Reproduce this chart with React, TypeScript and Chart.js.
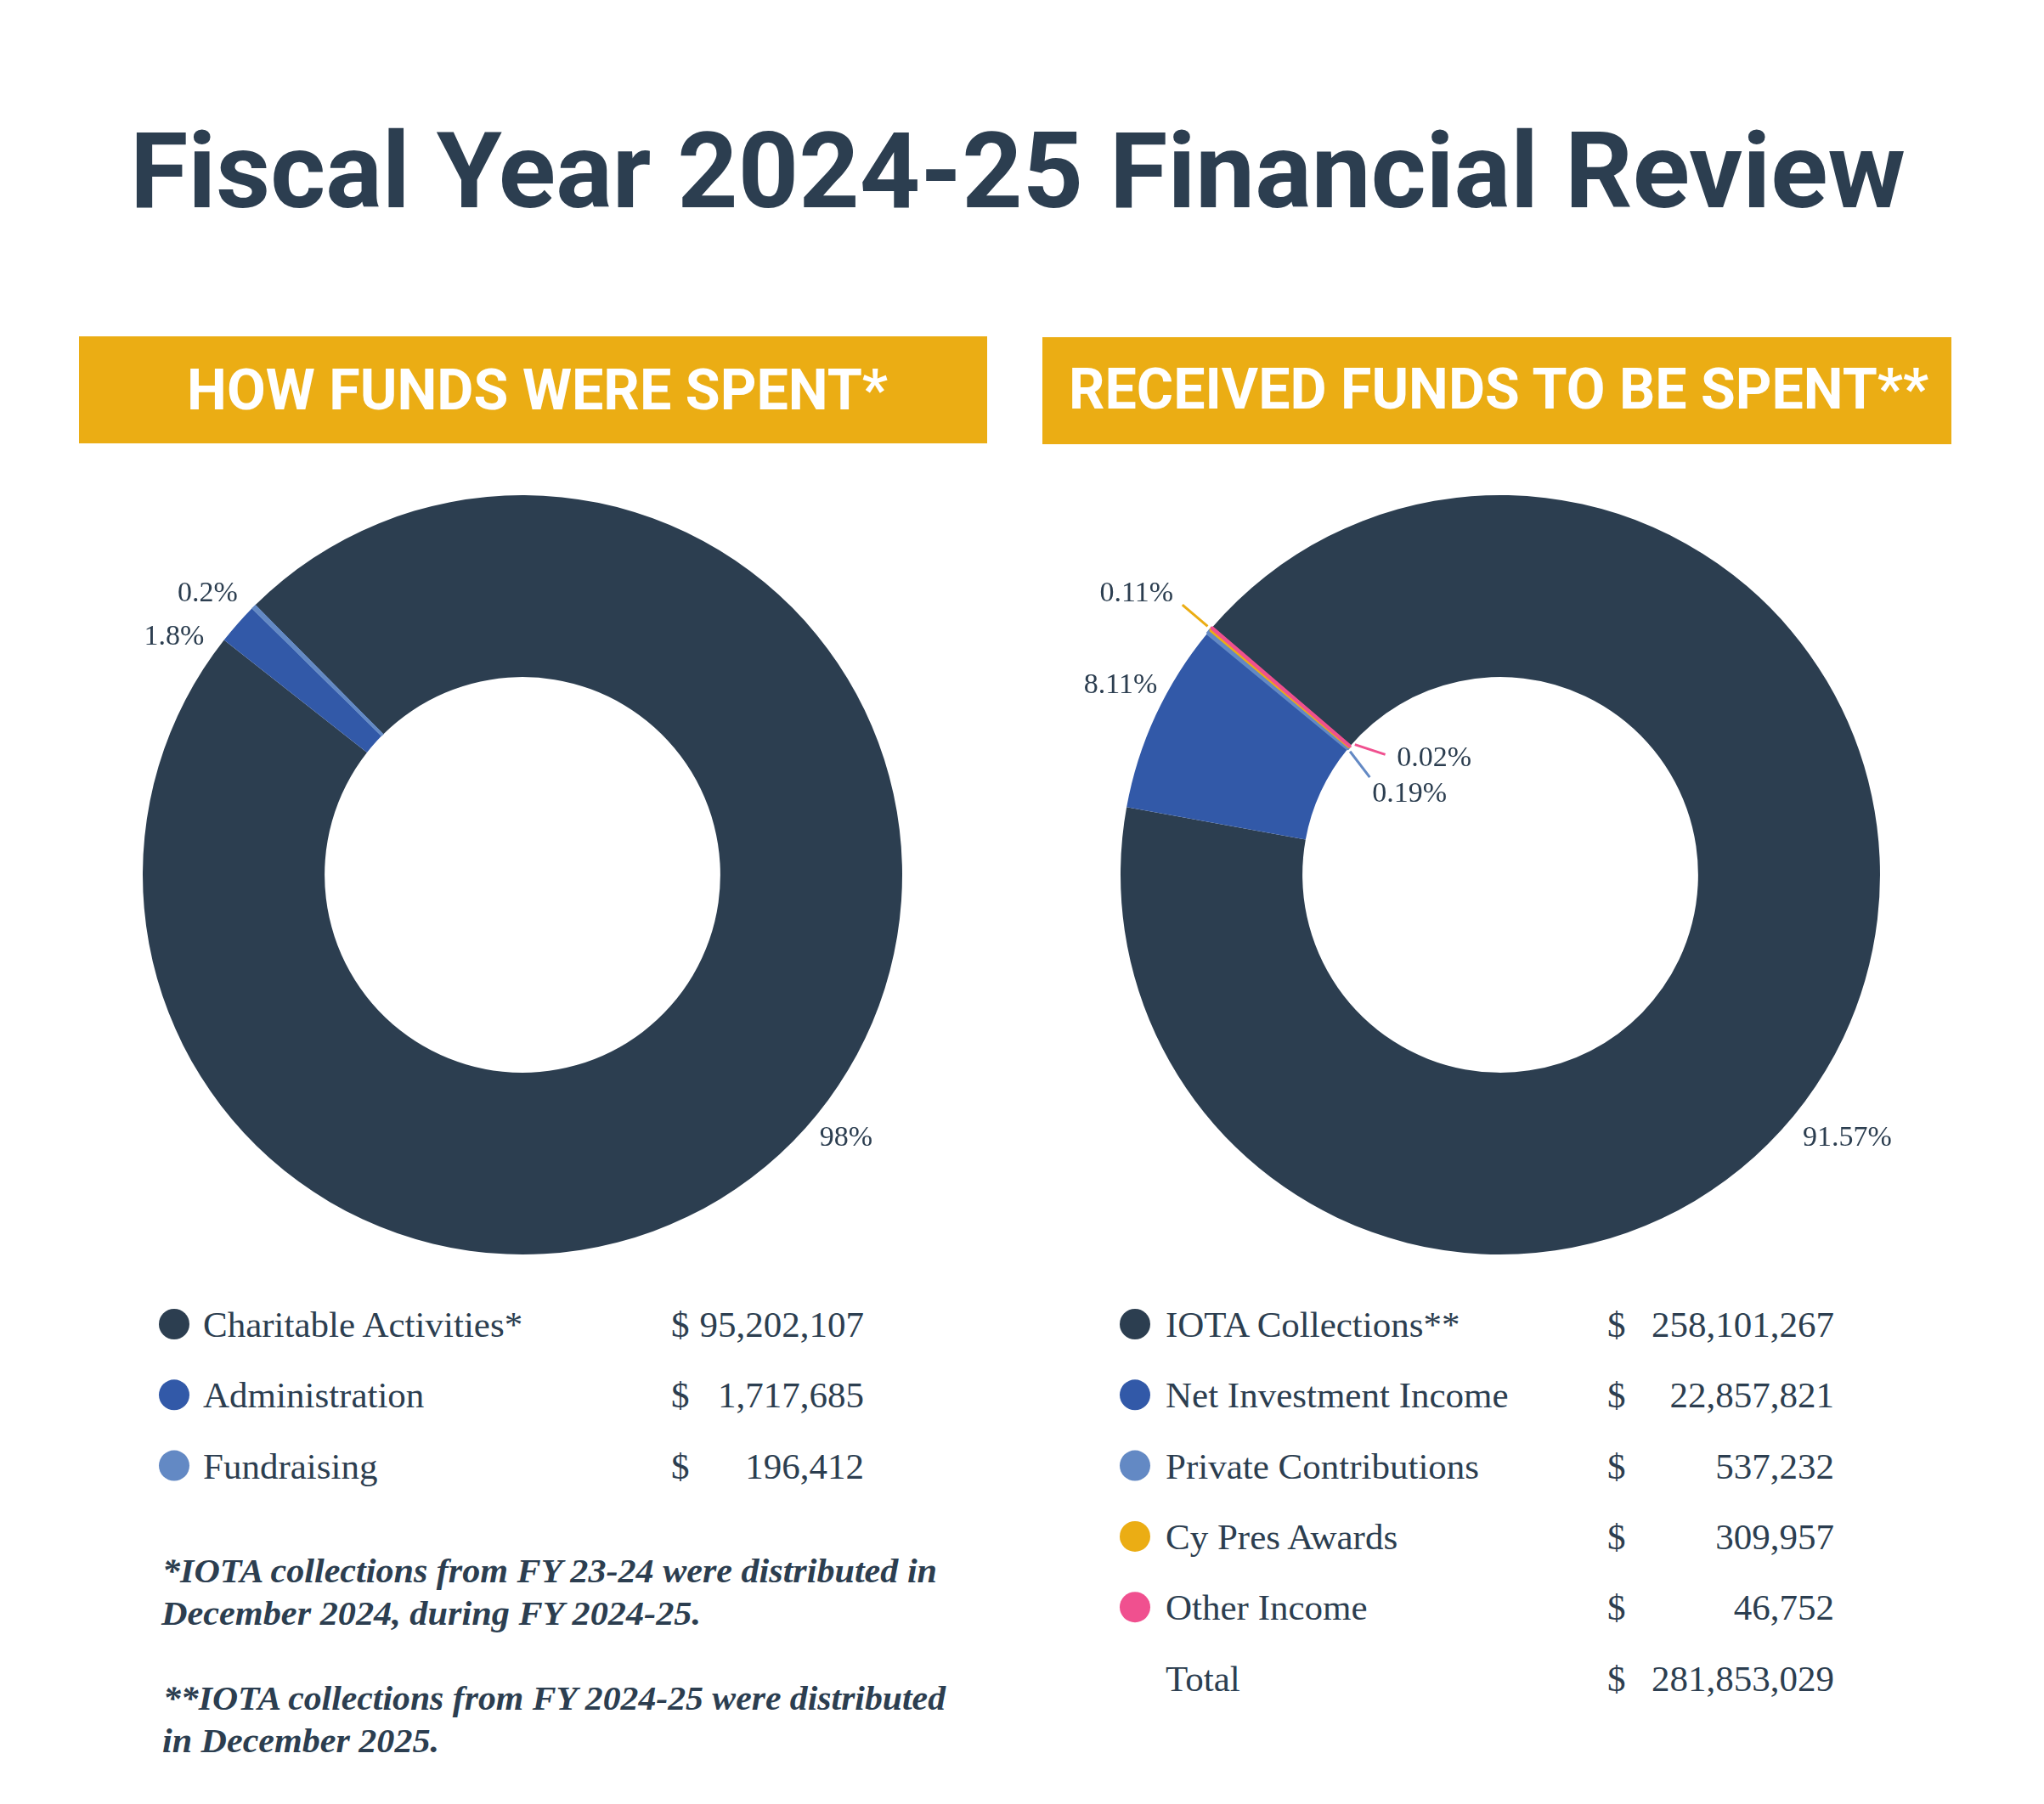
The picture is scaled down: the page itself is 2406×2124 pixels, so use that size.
import { useEffect, useRef } from 'react';
import { Chart, registerables } from 'chart.js';

Chart.register(...registerables);

// ---- data ----
const spentCategories = ['Charitable Activities*', 'Administration', 'Fundraising'];
const spentValues = [95202107, 1717685, 196412];

const receivedCategories = [
  'IOTA Collections**',
  'Net Investment Income',
  'Private Contributions',
  'Cy Pres Awards',
  'Other Income',
];
const receivedValues = [258101267, 22857821, 537232, 309957, 46752];

const footnoteLines = [
  '*IOTA collections from FY 23-24 were distributed in',
  'December 2024, during FY 2024-25.',
  '**IOTA collections from FY 2024-25 were distributed',
  'in December 2025.',
];

// ---- styles ----
const INK = '#2C3E50';
const GOLD = '#EBAD14';
const spentColors = ['#2C3E50', '#3259A8', '#6389C4'];
const receivedColors = ['#2C3E50', '#3259A8', '#6389C4', '#EBAD14', '#F0508F'];
const SERIF = "'Liberation Serif', 'Times New Roman', serif";
const SANS = "Roboto, 'Noto Sans', sans-serif";

const CANVAS = 1100;
const OUTER_R = 447;

type Placement = {
  edge: 'outer' | 'inner';
  dr: number; // radial offset from the chosen edge
  da: number; // angular offset (deg) from the slice middle
  leader?: [number, number, number, number];
};

const spentPlacements: Placement[] = [
  { edge: 'outer', dr: 42, da: -2.9 },
  { edge: 'outer', dr: 51, da: -6.8 },
  { edge: 'outer', dr: 52, da: -2.9 },
];

const receivedPlacements: Placement[] = [
  { edge: 'outer', dr: 64, da: 11.5 },
  { edge: 'outer', dr: 54, da: 2.0 },
  { edge: 'inner', dr: -88, da: 2.7, leader: [-4, -0.4, -41, -3.0] },
  { edge: 'outer', dr: 96, da: -2.4, leader: [5, 0, 44, 0] },
  { edge: 'inner', dr: -73, da: 20.3, leader: [-3, 1.3, -37, 5.7] },
];

const pctOneDecimal = (p: number) => {
  const s = p.toFixed(1);
  return (s.endsWith('.0') ? s.slice(0, -2) : s) + '%';
};
const pctTwoDecimals = (p: number) => p.toFixed(2) + '%';

function sliceLabels(placements: Placement[], fmt: (p: number) => string) {
  return {
    id: 'sliceLabels',
    afterDatasetsDraw(chart: any) {
      const ctx: CanvasRenderingContext2D = chart.ctx;
      const meta = chart.getDatasetMeta(0);
      const ds = chart.data.datasets[0];
      const data = ds.data as number[];
      const colors = ds.backgroundColor as string[];
      const total = data.reduce((a, b) => a + b, 0);
      ctx.save();
      meta.data.forEach((el: any, i: number) => {
        const p = placements[i];
        const { x, y, startAngle, endAngle, innerRadius, outerRadius } = el.getProps(
          ['x', 'y', 'startAngle', 'endAngle', 'innerRadius', 'outerRadius'],
          true
        );
        const mid = (startAngle + endAngle) / 2;
        const base = p.edge === 'inner' ? innerRadius : outerRadius;
        const at = (dr: number, da: number) => {
          const a = mid + (da * Math.PI) / 180;
          const r = base + dr;
          return [x + r * Math.cos(a), y + r * Math.sin(a)];
        };
        if (p.leader) {
          const [x1, y1] = at(p.leader[0], p.leader[1]);
          const [x2, y2] = at(p.leader[2], p.leader[3]);
          ctx.strokeStyle = colors[i];
          ctx.lineWidth = 3;
          ctx.beginPath();
          ctx.moveTo(x1, y1);
          ctx.lineTo(x2, y2);
          ctx.stroke();
        }
        const [lx, ly] = at(p.dr, p.da);
        ctx.fillStyle = INK;
        ctx.font = `34px ${SERIF}`;
        ctx.textAlign = 'center';
        ctx.textBaseline = 'alphabetic';
        ctx.fillText(fmt((data[i] / total) * 100), lx, ly + 12);
      });
      ctx.restore();
    },
  };
}

type DonutProps = {
  categories: string[];
  values: number[];
  colors: string[];
  borders: number[];
  rotation: number;
  placements: Placement[];
  fmt: (p: number) => string;
  cx: number;
  cy: number;
};

function Donut({ categories, values, colors, borders, rotation, placements, fmt, cx, cy }: DonutProps) {
  const ref = useRef<HTMLCanvasElement>(null);
  useEffect(() => {
    const chart = new Chart(ref.current as HTMLCanvasElement, {
      type: 'doughnut',
      data: {
        labels: categories,
        datasets: [
          {
            data: values,
            backgroundColor: colors,
            borderColor: colors,
            borderWidth: borders,
          },
        ],
      },
      options: {
        responsive: false,
        animation: false,
        devicePixelRatio: 1,
        rotation,
        radius: OUTER_R,
        cutout: '52.1%',
        layout: { padding: 0 },
        events: [],
        plugins: {
          legend: { display: false },
          tooltip: { enabled: false },
        },
      } as any,
      plugins: [sliceLabels(placements, fmt)],
    });
    return () => chart.destroy();
  }, []);
  return (
    <canvas
      ref={ref}
      width={CANVAS}
      height={CANVAS}
      style={{
        position: 'absolute',
        left: cx - CANVAS / 2,
        top: cy - CANVAS / 2,
        width: CANVAS,
        height: CANVAS,
        zIndex: 1,
      }}
    />
  );
}

const money = (v: number) => v.toLocaleString('en-US');

type LegendProps = {
  categories: string[];
  values: number[];
  colors: string[];
  dotX: number;
  textX: number;
  dollarX: number;
  amountRight: number;
  firstBaseline: number;
  step: number;
  showTotal?: boolean;
};

function Legend({ categories, values, colors, dotX, textX, dollarX, amountRight, firstBaseline, step, showTotal }: LegendProps) {
  const rows = categories.map((c, i) => {
    const b = firstBaseline + i * step;
    return (
      <g key={c}>
        <circle cx={dotX} cy={b - 15} r={18} fill={colors[i]} />
        <text x={textX} y={b}>{c}</text>
        <text x={dollarX} y={b}>$</text>
        <text x={amountRight} y={b} textAnchor="end">{money(values[i])}</text>
      </g>
    );
  });
  if (showTotal) {
    const b = firstBaseline + categories.length * step;
    rows.push(
      <g key="total">
        <text x={textX} y={b}>Total</text>
        <text x={dollarX} y={b}>$</text>
        <text x={amountRight} y={b} textAnchor="end">{money(values.reduce((a, v) => a + v, 0))}</text>
      </g>
    );
  }
  return (
    <g fontFamily={SERIF} fontSize={43} fill={INK}>
      {rows}
    </g>
  );
}

export default function App() {
  return (
    <div
      style={{
        position: 'fixed',
        left: 0,
        top: 0,
        width: 2406,
        height: 2124,
        background: '#ffffff',
        overflow: 'hidden',
      }}
    >
      <svg
        width={2406}
        height={2124}
        style={{ position: 'absolute', left: 0, top: 0, zIndex: 0 }}
      >
        <text
          x={153}
          y={244}
          fontFamily={SANS}
          fontWeight={700}
          fontSize={125}
          fill={INK}
          textLength={2090}
          lengthAdjust="spacingAndGlyphs"
        >
          Fiscal Year 2024-25 Financial Review
        </text>

        <rect x={93} y={396} width={1069} height={126} fill={GOLD} />
        <rect x={1227} y={397} width={1070} height={126} fill={GOLD} />
        <g fontFamily={SANS} fontWeight={700} fontSize={67} fill="#ffffff">
          <text x={220} y={482} textLength={825} lengthAdjust="spacingAndGlyphs">
            HOW FUNDS WERE SPENT*
          </text>
          <text x={1258} y={481} textLength={1012} lengthAdjust="spacingAndGlyphs">
            RECEIVED FUNDS TO BE SPENT**
          </text>
        </g>

        <Legend
          categories={spentCategories}
          values={spentValues}
          colors={spentColors}
          dotX={205}
          textX={239}
          dollarX={790}
          amountRight={1017}
          firstBaseline={1574}
          step={83.3}
        />
        <Legend
          categories={receivedCategories}
          values={receivedValues}
          colors={receivedColors}
          dotX={1336}
          textX={1372}
          dollarX={1892}
          amountRight={2159}
          firstBaseline={1574}
          step={83.3}
          showTotal
        />

        <g fontFamily={SERIF} fontWeight={700} fontStyle="italic" fontSize={40} fill={INK}>
          <text x={191} y={1863} textLength={912} lengthAdjust="spacingAndGlyphs">{footnoteLines[0]}</text>
          <text x={190} y={1913} textLength={635} lengthAdjust="spacingAndGlyphs">{footnoteLines[1]}</text>
          <text x={192} y={2013} textLength={921} lengthAdjust="spacingAndGlyphs">{footnoteLines[2]}</text>
          <text x={191} y={2063} textLength={326} lengthAdjust="spacingAndGlyphs">{footnoteLines[3]}</text>
        </g>
      </svg>

      <Donut
        categories={spentCategories}
        values={spentValues}
        colors={spentColors}
        borders={[0, 0, 1]}
        rotation={-44.7}
        placements={spentPlacements}
        fmt={pctOneDecimal}
        cx={615}
        cy={1030}
      />
      <Donut
        categories={receivedCategories}
        values={receivedValues}
        colors={receivedColors}
        borders={[0, 0, 3, 3, 4]}
        rotation={-49.4}
        placements={receivedPlacements}
        fmt={pctTwoDecimals}
        cx={1766}
        cy={1030}
      />
    </div>
  );
}
